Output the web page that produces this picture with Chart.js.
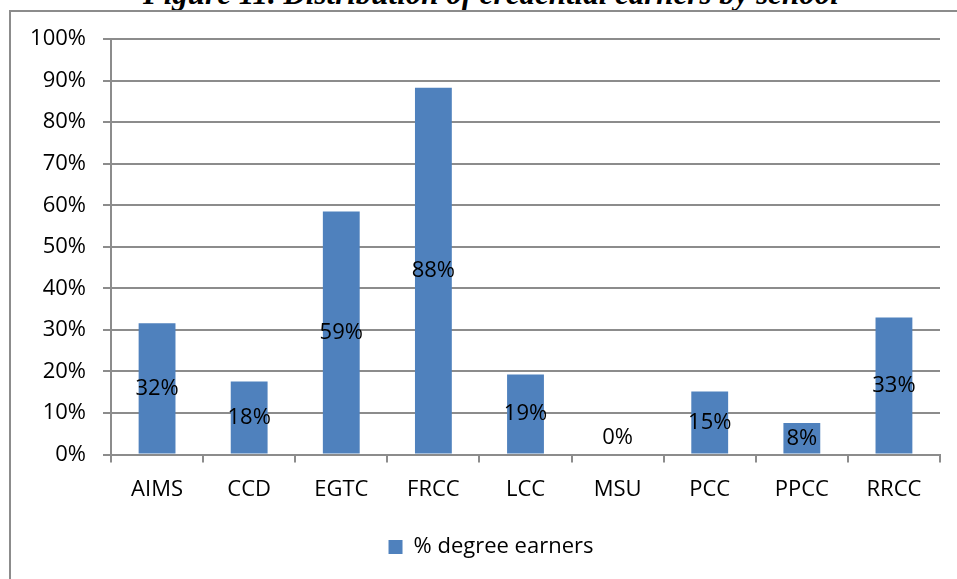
<!DOCTYPE html>
<html>
<head>
<meta charset="utf-8">
<script src="https://cdn.jsdelivr.net/npm/chart.js@4"></script>
<style>
  html, body { margin: 0; padding: 0; background: #fff; overflow: hidden; }
  #wrap { position: relative; width: 957px; height: 579px; overflow: hidden; }
  #title {
    position: absolute; left: 491px; top: -23px; transform: translateX(-50%);
    white-space: nowrap; font: italic bold 31px "Liberation Serif", serif; line-height: 34px;
  }
  #frame {
    position: absolute; left: 9px; top: 10px; width: 1000px; height: 700px;
    border: 2px solid #8c8c8c; box-sizing: border-box;
  }
  #box { position: absolute; left: 0; top: 0; width: 957px; height: 579px; }
</style>
</head>
<body>
<div id="wrap">
  <div id="title">Figure 11. Distribution of credential earners by school</div>
  <div id="frame"></div>
  <div id="box"><canvas id="myChart"></canvas></div>
</div>
<script>
const schools = ['AIMS', 'CCD', 'EGTC', 'FRCC', 'LCC', 'MSU', 'PCC', 'PPCC', 'RRCC'];
const degreeEarners = [31.6, 17.6, 58.5, 88.3, 19.3, 0, 15.2, 7.6, 33.0];
const yTicks = [0, 10, 20, 30, 40, 50, 60, 70, 80, 90, 100];

const fontFamily = '"Open Sans", "Noto Sans", sans-serif';

// labels in the middle of each bar
const barLabels = {
  id: 'barLabels',
  afterDatasetsDraw(chart) {
    const c = chart.ctx;
    const meta = chart.getDatasetMeta(0);
    c.save();
    c.font = '22px ' + fontFamily;
    c.fillStyle = '#000';
    c.textAlign = 'center';
    c.textBaseline = 'middle';
    meta.data.forEach((bar, i) => {
      const v = degreeEarners[i];
      let y = (bar.y + bar.base) / 2;
      if (v === 0) y = bar.base - 17;
      c.fillText(Math.round(v) + '%', bar.x, y);
    });
    c.restore();
  }
};

// legend is centred on the frame, not on the padded area
const legendShift = {
  id: 'legendShift',
  afterLayout(chart) {
    chart.legend.left = 42;
    chart.legend.right = 940;
  }
};

const ctx = document.getElementById('myChart').getContext('2d');

new Chart(ctx, {
  type: 'bar',
  data: {
    labels: schools,
    datasets: [{
      label: '% degree earners',
      data: degreeEarners,
      backgroundColor: '#4f81bd',
      borderWidth: 0,
      barPercentage: 0.4,
      categoryPercentage: 1
    }]
  },
  options: {
    responsive: true,
    maintainAspectRatio: false,
    animation: false,
    layout: { padding: { left: 20, right: 17, top: 39, bottom: 11 } },
    plugins: {
      tooltip: { enabled: false },
      legend: {
        position: 'bottom',
        labels: {
          boxWidth: 14,
          boxHeight: 14,
          padding: 19,
          color: '#000',
          font: { family: fontFamily, size: 22 }
        }
      }
    },
    scales: {
      x: {
        grid: { drawOnChartArea: false, drawTicks: true, tickLength: 8, color: '#8c8c8c', lineWidth: 2 },
        border: { color: '#8c8c8c', width: 2 },
        ticks: { color: '#000', padding: 14, font: { family: fontFamily, size: 22 } }
      },
      y: {
        min: 0,
        max: 100,
        afterBuildTicks(axis) { axis.ticks = yTicks.map(v => ({ value: v })); },
        afterFit(axis) { axis.width = 91; },
        grid: { color: '#8c8c8c', lineWidth: 2, tickLength: 8 },
        border: { color: '#8c8c8c', width: 2 },
        ticks: {
          color: '#000',
          padding: 17,
          font: { family: fontFamily, size: 22 },
          callback: v => v + '%'
        }
      }
    }
  },
  plugins: [barLabels, legendShift]
});
</script>
</body>
</html>
